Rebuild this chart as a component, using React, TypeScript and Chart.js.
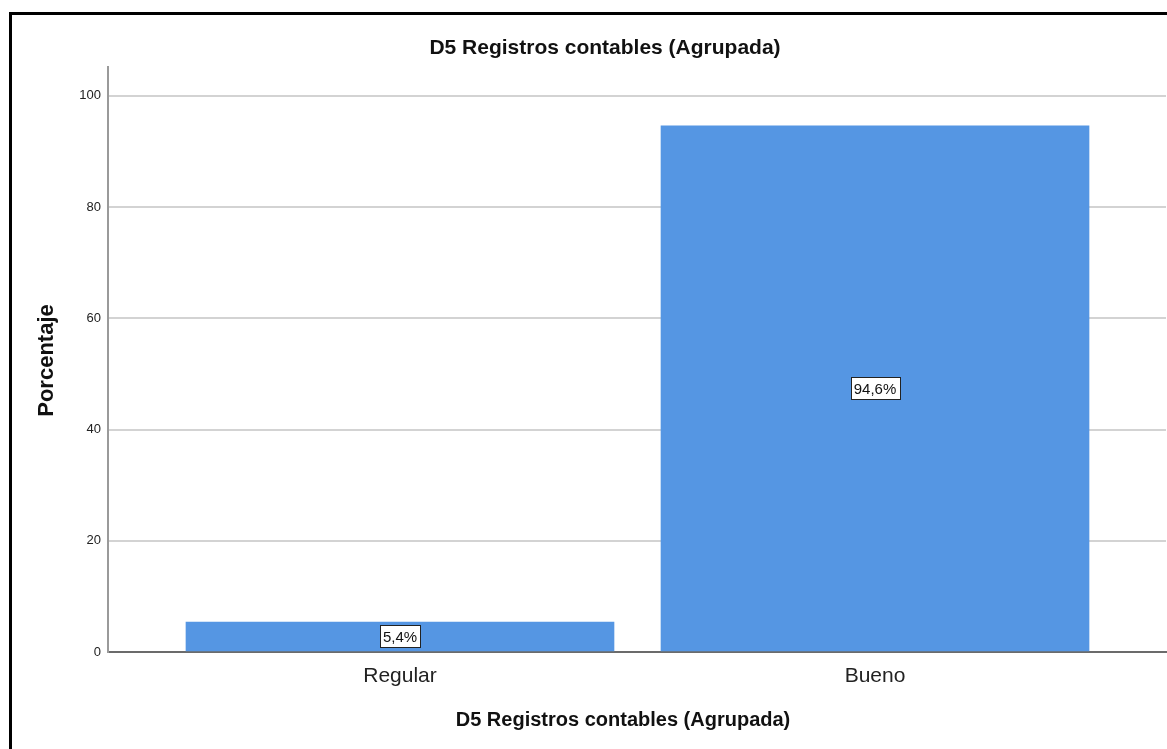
import React, { useEffect, useRef } from "react";
import { Chart, registerables } from "chart.js";

Chart.register(...registerables);

const categories = ["Regular", "Bueno"];
const percentages = [5.4, 94.6];
const valueLabels = ["5,4%", "94,6%"];
const yTicks = [0, 20, 40, 60, 80, 100];
const chartTitle = "D5 Registros contables (Agrupada)";
const xAxisTitle = "D5 Registros contables (Agrupada)";
const yAxisTitle = "Porcentaje";

const FONT = "'Liberation Sans', Arial, sans-serif";
const BAR_COLOR = "#5596e3";

export default function App() {
  const canvasRef = useRef<HTMLCanvasElement | null>(null);

  useEffect(() => {
    const canvas = canvasRef.current;
    if (!canvas) return;

    const textPlugin = {
      id: "spssText",
      afterDraw(chart: any) {
        const ctx = chart.ctx as CanvasRenderingContext2D;
        const area = chart.chartArea;
        ctx.save();
        ctx.fillStyle = "#111";
        ctx.textAlign = "center";
        ctx.textBaseline = "middle";
        // title
        ctx.font = `bold 21px ${FONT}`;
        ctx.fillText(chartTitle, 593, 33);
        // x axis title
        ctx.font = `bold 20px ${FONT}`;
        ctx.fillText(xAxisTitle, 611, 705);
        // y axis title
        ctx.save();
        ctx.font = `bold 22px ${FONT}`;
        ctx.translate(35, (area.top + area.bottom) / 2 + 1);
        ctx.rotate(-Math.PI / 2);
        ctx.fillText(yAxisTitle, 0, 0);
        ctx.restore();

        // value labels
        const meta = chart.getDatasetMeta(0);
        ctx.font = `15px ${FONT}`;
        meta.data.forEach((el: any, i: number) => {
          const label = valueLabels[i];
          const cx = el.x;
          const cy = (el.y + el.base) / 2;
          const tw = ctx.measureText(label).width;
          const w = Math.round(tw + 6);
          const h = 22;
          const x0 = Math.round(cx - w / 2) + 0.5;
          const y0 = Math.round(cy - h / 2) + 0.5;
          ctx.fillStyle = "#ffffff";
          ctx.fillRect(x0, y0, w, h);
          ctx.strokeStyle = "#222";
          ctx.lineWidth = 1;
          ctx.strokeRect(x0, y0, w, h);
          ctx.fillStyle = "#111";
          ctx.fillText(label, cx, cy + 1);
        });
        ctx.restore();
      },
    };

    const chart = new Chart(canvas, {
      type: "bar",
      data: {
        datasets: [
          {
            label: yAxisTitle,
            data: percentages.map((v, i) => ({ x: i, y: v })),
            backgroundColor: BAR_COLOR,
            borderWidth: 0,
            barThickness: 428,
          },
        ],
      },
      options: {
        animation: false,
        responsive: false,
        maintainAspectRatio: false,
        layout: { padding: { top: 52, right: 32, left: 0, bottom: 0 } },
        plugins: {
          legend: { display: false },
          tooltip: { enabled: false },
          title: { display: false },
        },
        scales: {
          x: {
            type: "linear",
            min: -0.6147,
            max: 1.6126,
            offset: false,
            grid: { display: false, drawTicks: false },
            border: { display: true, color: "#6b6b6b", width: 2 },
            afterBuildTicks: (scale: any) => {
              scale.ticks = categories.map((_, i) => ({ value: i }));
            },
            afterFit: (scale: any) => {
              scale.height = 97;
            },
            ticks: {
              padding: 12,
              color: "#222",
              font: { family: FONT, size: 21 },
              maxRotation: 0,
              autoSkip: false,
              callback: (v: any) => categories[v as number] ?? "",
            },
          },
          y: {
            min: 0,
            max: 105.2,
            grid: {
              color: (c: any) => (c.tick && c.tick.value === 0 ? "rgba(0,0,0,0)" : "#d3d3d3"),
              lineWidth: 2,
              drawTicks: false,
            },
            border: { display: true, color: "#9a9a9a", width: 2 },
            afterBuildTicks: (scale: any) => {
              scale.ticks = yTicks.map((v) => ({ value: v }));
            },
            afterFit: (scale: any) => {
              scale.width = 96;
            },
            ticks: {
              padding: 7,
              color: "#222",
              font: { family: FONT, size: 13 },
              callback: (v: any) => String(v),
            },
          },
        },
      },
      plugins: [textPlugin],
    } as any);

    return () => chart.destroy();
  }, []);

  return (
    <div
      style={{
        position: "fixed",
        left: 0,
        top: 0,
        width: 1167,
        height: 749,
        overflow: "hidden",
        background: "#ffffff",
      }}
    >
      <div
        style={{
          position: "absolute",
          left: 9,
          top: 12,
          width: 1300,
          height: 900,
          border: "3px solid #000",
          boxSizing: "border-box",
        }}
      />
      <div style={{ position: "absolute", left: 12, top: 15, width: 1186, height: 734 }}>
        <canvas ref={canvasRef} width={1186} height={734} style={{ width: 1186, height: 734 }} />
      </div>
    </div>
  );
}
